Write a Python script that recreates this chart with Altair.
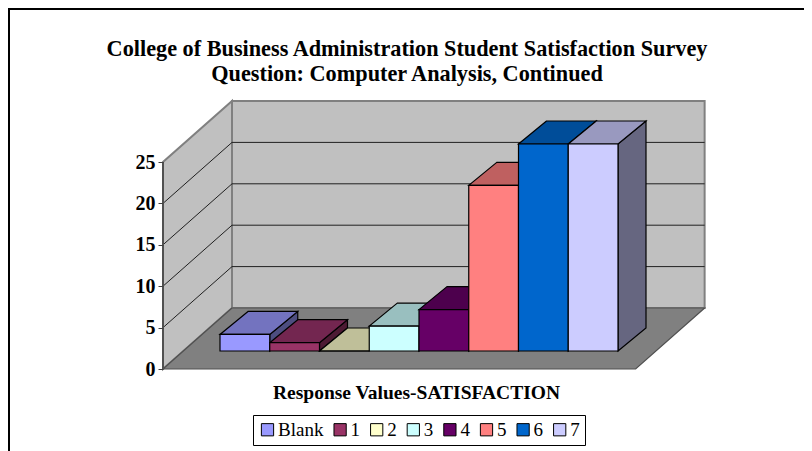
import altair as alt
import pandas as pd

labels = ["Blank", "1", "2", "3", "4", "5", "6", "7"]
values = [2, 1, 0, 3, 5, 20, 25, 25]
front_colors = ["#9999ff", "#993366", "#ffffcc", "#ccffff", "#660066", "#ff8080", "#0066cc", "#ccccff"]
top_colors = ["#7373bf", "#732650", "#bfbf99", "#99bfbf", "#4d004d", "#bf6060", "#004d99", "#9999bf"]
side_colors = ["#4d4d80", "#4d1a33", "#808066", "#668080", "#330033", "#804040", "#003366", "#666680"]
ticks = [0, 5, 10, 15, 20, 25]
title_lines = ["College of Business Administration Student Satisfaction Survey",
               "Question: Computer Analysis, Continued"]
x_title = "Response Values-SATISFACTION"

FONT = "Liberation Serif"
W, H = 796, 443
UX, UY = 49.75, 8.28          # px per category, px per response
X0, Y0 = 155, 361             # plot px of the front-left floor corner
FLOOR_W = 9.5
FLOOR_DX, FLOOR_DY = 69 / UX, 61 / UY
BAR_X, BAR_BASE = 57 / UX, 18 / UY
BAR_DX, BAR_DY = 28 / UX, 23 / UY
TOP = 25

xs = alt.Scale(domain=[-X0 / UX, (W - X0) / UX], range=[0, W], nice=False, zero=False)
ys = alt.Scale(domain=[(Y0 - H) / UY, Y0 / UY], range=[H, 0], nice=False, zero=False)

x_axis = alt.Axis(labels=False, ticks=False, domain=False, grid=False, title=x_title,
                  titleFont=FONT, titleFontSize=19.5, titleFontWeight="bold", titleColor="black",
                  titleX=408, titleY=-59, titleBaseline="middle", titleAlign="center",
                  orient="bottom", zindex=1)
y_axis = alt.Axis(values=ticks, offset=-X0, orient="left", grid=False, domain=False, title=None,
                  tickSize=5, tickColor="#404040", tickWidth=1, labelPadding=3, labelFont=FONT,
                  labelFontSize=20, labelFontWeight="bold", labelColor="black", labelOverlap=False, zindex=1)

X = lambda f, **k: alt.X(f, type="quantitative", scale=xs, axis=x_axis, **k)
Y = lambda f, **k: alt.Y(f, type="quantitative", scale=ys, axis=y_axis, **k)

# walls
back = pd.DataFrame([{"x": FLOOR_DX, "x2": FLOOR_DX + FLOOR_W, "y": FLOOR_DY, "y2": FLOOR_DY + TOP}])
left = pd.DataFrame([{"x": 0, "y": 0, "y2": TOP}, {"x": FLOOR_DX, "y": FLOOR_DY, "y2": FLOOR_DY + TOP}])
floor = pd.DataFrame([{"y": 0, "x": 0, "x2": FLOOR_W}, {"y": FLOOR_DY, "x": FLOOR_DX, "x2": FLOOR_DX + FLOOR_W}])

back_layer = alt.Chart(back).mark_rect(fill="#c0c0c0", stroke="#808080", strokeWidth=2).encode(
    x=X("x:Q"), x2="x2:Q", y=Y("y:Q"), y2="y2:Q")
left_layer = alt.Chart(left).mark_area(fill="#c0c0c0", stroke="#808080", strokeWidth=2, orient="vertical").encode(
    x=X("x:Q"), y=Y("y:Q", stack=None), y2="y2:Q")
floor_layer = alt.Chart(floor).mark_area(fill="#808080", stroke="#505050", strokeWidth=1.2, orient="horizontal").encode(
    x=X("x:Q", stack=None), x2="x2:Q", y=Y("y:Q"))

# gridlines
grid_back = pd.DataFrame([{"x": FLOOR_DX, "x2": FLOOR_DX + FLOOR_W, "y": t + FLOOR_DY} for t in ticks[1:-1]])
grid_left = pd.DataFrame([r for t in ticks[1:-1] for r in (
    {"id": t, "x": 0, "y": t}, {"id": t, "x": FLOOR_DX, "y": t + FLOOR_DY})])
grid_back_layer = alt.Chart(grid_back).mark_rule(color="#202020", strokeWidth=1).encode(
    x=X("x:Q"), x2="x2:Q", y=Y("y:Q"))
grid_left_layer = alt.Chart(grid_left).mark_line(color="#202020", strokeWidth=1).encode(
    x=X("x:Q"), y=Y("y:Q"), detail="id:N")
axis_line = alt.Chart(pd.DataFrame([{"x": 0, "y": 0, "y2": TOP}])).mark_rule(color="#505050", strokeWidth=2).encode(
    x=X("x:Q"), y=Y("y:Q"), y2="y2:Q")

# bars
fronts, tops, sides = [], [], []
for i, (lab, v) in enumerate(zip(labels, values)):
    x0, x1 = BAR_X + i, BAR_X + i + 1
    b, t = BAR_BASE, BAR_BASE + v
    fronts.append({"label": lab, "x": x0, "x2": x1, "y": b, "y2": t})
    tops += [{"id": lab, "y": t, "x": x0, "x2": x1, "fill": top_colors[i]},
             {"id": lab, "y": t + BAR_DY, "x": x0 + BAR_DX, "x2": x1 + BAR_DX, "fill": top_colors[i]}]
    sides += [{"id": lab, "x": x1, "y": b, "y2": t, "fill": side_colors[i]},
              {"id": lab, "x": x1 + BAR_DX, "y": b + BAR_DY, "y2": t + BAR_DY, "fill": side_colors[i]}]

side_layer = alt.Chart(pd.DataFrame(sides)).mark_area(stroke="black", strokeWidth=1.2, orient="vertical").encode(
    x=X("x:Q"), y=Y("y:Q", stack=None), y2="y2:Q", detail="id:N", fill=alt.Fill("fill:N", scale=None))
top_layer = alt.Chart(pd.DataFrame(tops)).mark_area(stroke="black", strokeWidth=1.2, orient="horizontal").encode(
    x=X("x:Q", stack=None), x2="x2:Q", y=Y("y:Q"), detail="id:N", fill=alt.Fill("fill:N", scale=None))
front_layer = alt.Chart(pd.DataFrame(fronts)).mark_rect(stroke="black", strokeWidth=1.2).encode(
    x=X("x:Q"), x2="x2:Q", y=Y("y:Q"), y2="y2:Q",
    color=alt.Color("label:N", sort=labels, scale=alt.Scale(domain=labels, range=front_colors),
                    legend=alt.Legend(title=None, orient="none", legendX=245, legendY=407, direction="horizontal",
                                      columns=8, symbolType="square", symbolSize=150, symbolStrokeColor="black",
                                      symbolStrokeWidth=1, symbolOpacity=1, labelFont=FONT, labelFontSize=19,
                                      labelColor="black", labelOffset=1, columnPadding=6.6, padding=5,
                                      fillColor="white", strokeColor="black", labelLimit=100)),
)

# frame of the chart area
frame_left = alt.Chart(pd.DataFrame([{"k": 0}])).mark_rule(color="black", strokeWidth=2).encode(
    x=alt.value(1), y=alt.value(0), y2=alt.value(H))
frame_top = alt.Chart(pd.DataFrame([{"k": 0}])).mark_rule(color="black", strokeWidth=2).encode(
    y=alt.value(1), x=alt.value(0), x2=alt.value(W))

chart = alt.layer(
    back_layer, left_layer, floor_layer, grid_back_layer, grid_left_layer, axis_line,
    side_layer, top_layer, front_layer, frame_left, frame_top,
).properties(
    width=W, height=H, padding=0, autosize=alt.AutoSizeParams(type="none"),
    title=alt.TitleParams(text=title_lines, font=FONT, fontSize=22.25, fontWeight="bold", color="black",
                          anchor="middle", frame="group", orient="top", offset=-78, lineHeight=25, dx=1),
).configure_view(stroke=None).configure(background="white")

chart.save("out.html", embed_options={"renderer": "svg", "actions": False})
